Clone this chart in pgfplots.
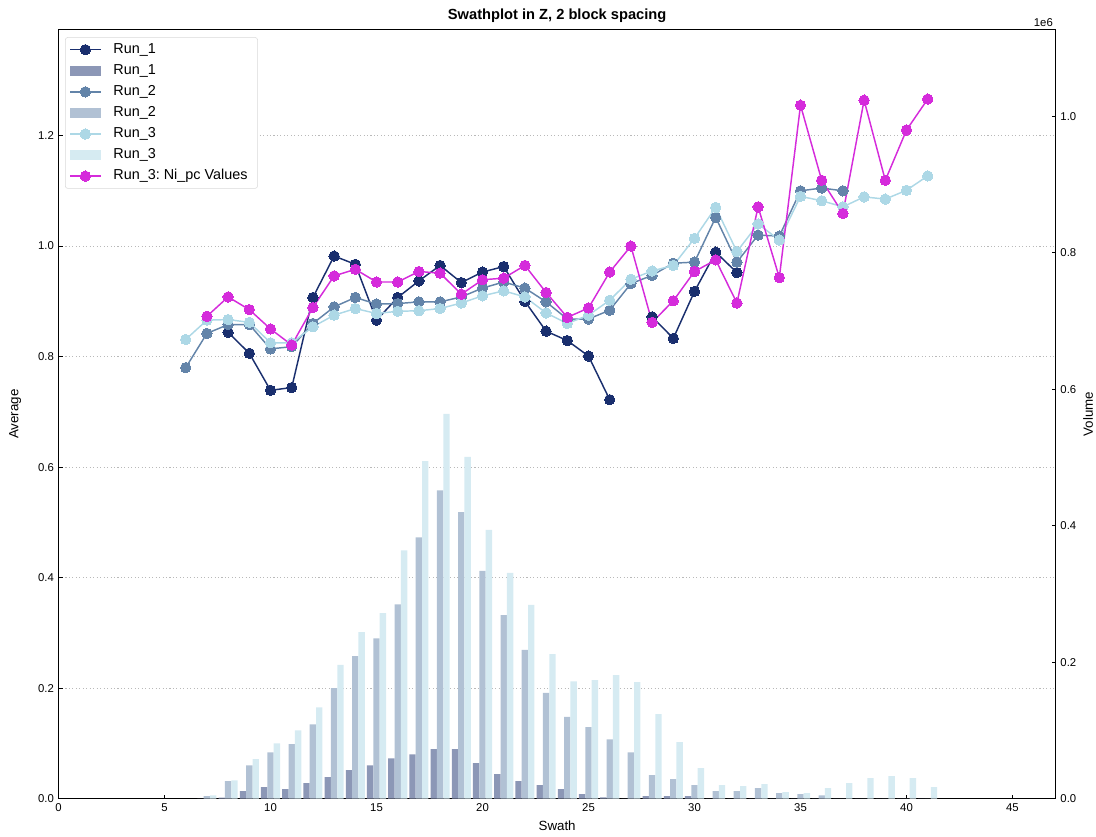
\documentclass[border=0pt]{standalone}
\usepackage{fontspec}
\setmainfont{Liberation Sans}
\usepackage{pgfplots}
\pgfplotsset{compat=1.18}
\usepackage{pgfplotstable}
\frenchspacing

\definecolor{runA}{HTML}{1A2F6E}
\definecolor{runB}{HTML}{6384A9}
\definecolor{runC}{HTML}{ADD8E6}
\definecolor{nipc}{HTML}{D52BDB}
\definecolor{barA}{HTML}{8C97B6}
\definecolor{barB}{HTML}{B1C1D4}
\definecolor{barC}{HTML}{D6EBF2}

% Swath averages (nan = no samples in that swath)
\pgfplotstableread{
x   r1     r2     r3     ni
6   nan    0.780  0.831  nan
7   nan    0.842  0.866  0.873
8   0.844  0.858  0.867  0.908
9   0.806  0.858  0.862  0.885
10  0.739  0.814  0.825  0.850
11  0.744  0.818  0.825  0.821
12  0.907  0.860  0.854  0.889
13  0.982  0.890  0.875  0.946
14  0.967  0.907  0.887  0.958
15  0.866  0.895  0.878  0.935
16  0.907  0.896  0.882  0.935
17  0.937  0.899  0.883  0.954
18  0.965  0.899  0.887  0.951
19  0.934  0.908  0.897  0.913
20  0.953  0.924  0.910  0.939
21  0.963  0.935  0.919  0.942
22  0.900  0.924  0.908  0.965
23  0.846  0.899  0.879  0.916
24  0.829  0.868  0.860  0.871
25  0.801  0.868  0.875  0.888
26  0.722  0.884  0.902  0.953
27  nan    0.932  0.940  1.000
28  0.872  0.947  0.955  0.862
29  0.833  0.969  0.965  0.901
30  0.918  0.971  1.014  0.954
31  0.989  1.052  1.070  0.975
32  0.952  0.971  0.990  0.897
33  nan    1.020  1.040  1.071
34  nan    1.018  1.011  0.943
35  nan    1.100  1.090  1.255
36  nan    1.105  1.082  1.119
37  nan    1.100  1.071  1.059
38  nan    nan    1.089  1.264
39  nan    nan    1.085  1.119
40  nan    nan    1.101  1.210
41  nan    nan    1.127  1.266
}\averages

% Swath volumes, in units of 1e6
\pgfplotstableread{
x   b1      b2      b3
7   0.000   0.0037  0.0050
8   0.0015  0.0257  0.0270
9   0.0110  0.0490  0.0580
10  0.0169  0.0680  0.0810
11  0.0140  0.0800  0.1000
12  0.0227  0.1090  0.1340
13  0.0315  0.1620  0.1960
14  0.0420  0.2090  0.2440
15  0.0490  0.2350  0.2720
16  0.0590  0.2850  0.3640
17  0.0650  0.3830  0.4950
18  0.0725  0.4520  0.5640
19  0.0725  0.4200  0.5010
20  0.0520  0.3340  0.3940
21  0.0360  0.2690  0.3310
22  0.0257  0.2180  0.2840
23  0.0200  0.1550  0.2120
24  0.0140  0.1200  0.1720
25  0.0066  0.1050  0.1740
26  0.0020  0.0870  0.1810
27  0.0000  0.0680  0.1710
28  0.0037  0.0345  0.1240
29  0.0037  0.0286  0.0830
30  0.0037  0.0200  0.0450
31  0.0000  0.0110  0.0200
32  0.0000  0.0110  0.0186
33  0.0000  0.0154  0.0213
34  0.0000  0.0080  0.0095
35  0.0000  0.0066  0.0080
36  0.0000  0.0050  0.0154
37  0.0000  0.0000  0.0227
38  0.0000  0.0000  0.0300
39  0.0000  0.0000  0.0330
40  0.0000  0.0000  0.0300
41  0.0000  0.0000  0.0169
}\volumes

\pgfplotsset{
  swath/.style={
    scale only axis, width=748pt, height=577pt,
    xmin=0, xmax=47.04,
    tick label style={font=\fontsize{8.5}{10}\selectfont},
    /pgf/number format/assume math mode=true,
    axis line style={line width=1.1pt},
    major tick length=3pt,
    tick style={black, line width=0.8pt},
  },
  avgline/.style={line width=1.1pt, color=#1, mark=*, mark size=3.9pt,
    mark options={fill=#1, draw=#1, line width=0pt}},
  volbar/.style={ybar, bar width=0.3, fill=#1, draw=none},
  barpatch/.style={legend image code/.code={\fill[#1, sharp corners] (0pt,-3.5pt) rectangle (23pt,3.5pt);}},
}

\begin{document}
\begin{tikzpicture}
% Averages on the left axis
\begin{axis}[swath,
  ymin=0, ymax=1.392,
  xtick={0,5,...,45}, xtick pos=bottom,
  ytick={0,0.2,...,1.2}, ytick pos=left,
  yticklabel style={/pgf/number format/.cd, fixed, fixed zerofill, precision=1},
  ymajorgrids, grid style={gray!55, line width=0.6pt, dash pattern=on 0.8pt off 1.8pt},
  unbounded coords=jump,
  xlabel={Swath}, ylabel={Average},
  label style={font=\fontsize{10.8}{12}\selectfont},
  every axis x label/.style={at={([yshift=-20.6pt]axis description cs:0.5,0)}, anchor=center},
  every axis y label/.style={at={([xshift=-32.6pt]axis description cs:0,0.5)}, rotate=90, anchor=center},
  title={Swathplot in Z, 2 block spacing},
  every axis title/.style={at={([yshift=10.1pt]axis description cs:0.5,1)}, anchor=center,
    font=\bfseries\fontsize{11}{12}\selectfont},
  legend style={at={(0.0065,0.990)}, anchor=north west, draw=black!15, rounded corners=2pt,
    fill=white, font=\fontsize{10.8}{12}\selectfont, row sep=5.3pt,
    nodes={inner ysep=0pt, inner xsep=4.5pt, text height=8pt, text depth=2.5pt},
    inner xsep=3pt, inner ysep=4pt,
    /tikz/every odd column/.append style={column sep=4.5pt}},
  legend cell align=left,
  legend image code/.code={\draw[sharp corners, mark repeat=2, mark phase=2]
    plot coordinates {(0pt,0pt) (11.5pt,0pt) (23pt,0pt)};},
]
\addplot[avgline=runA] table[x=x, y=r1] {\averages};
\addlegendentry{Run\_1}
\addlegendimage{barpatch=barA}
\addlegendentry{Run\_1}
\addplot[avgline=runB] table[x=x, y=r2] {\averages};
\addlegendentry{Run\_2}
\addlegendimage{barpatch=barB}
\addlegendentry{Run\_2}
\addplot[avgline=runC] table[x=x, y=r3] {\averages};
\addlegendentry{Run\_3}
\addlegendimage{barpatch=barC}
\addlegendentry{Run\_3}
\addplot[avgline=nipc] table[x=x, y=ni] {\averages};
\addlegendentry{Run\_3: Ni\_pc Values}
\end{axis}

% Volumes on the right axis
\begin{axis}[swath, clip=false,
  ymin=0, ymax=1.1276,
  xtick=\empty,
  ytick={0,0.2,...,1.0}, ytick pos=right, yticklabel pos=right,
  yticklabel style={/pgf/number format/.cd, fixed, fixed zerofill, precision=1},
  ylabel={Volume},
  label style={font=\fontsize{10.8}{12}\selectfont},
  every axis y label/.style={at={([xshift=24.2pt]axis description cs:1,0.5)}, rotate=90, anchor=center},
]
\addplot[volbar=barA, bar shift=-0.3] table[x=x, y=b1] {\volumes};
\addplot[volbar=barB, bar shift=0] table[x=x, y=b2] {\volumes};
\addplot[volbar=barC, bar shift=0.3] table[x=x, y=b3] {\volumes};
\node[anchor=south east, inner sep=2pt, font=\fontsize{8.5}{10}\selectfont] at (rel axis cs:1,1) {1e6};
\coordinate (sw) at (rel axis cs:0,0);
\coordinate (ne) at (rel axis cs:1,1);
\end{axis}

\pgfresetboundingbox
\path ([shift={(-43.9pt,-28.1pt)}]sw) rectangle ([shift={(30.2pt,22.1pt)}]ne);
\end{tikzpicture}
\end{document}
